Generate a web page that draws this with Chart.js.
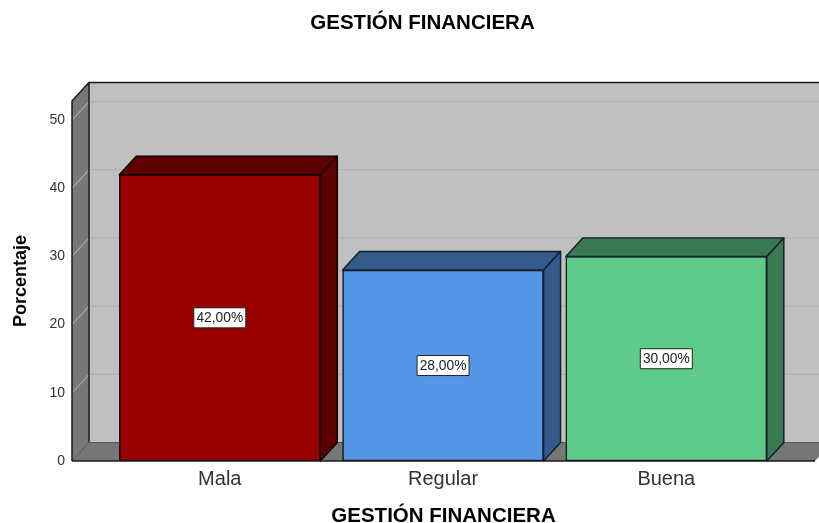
<!DOCTYPE html>
<html>
<head>
<meta charset="utf-8">
<style>
  html, body { margin: 0; padding: 0; background: #fff; overflow: hidden; }
  canvas { display: block; }
</style>
<script src="https://cdn.jsdelivr.net/npm/chart.js@4/dist/chart.umd.min.js"></script>
</head>
<body>
<canvas id="chart-gestion" width="819" height="523"></canvas>
<script>
const categories = ['Mala', 'Regular', 'Buena'];
const percentages = [42, 28, 30];
const yTicks = [0, 10, 20, 30, 40, 50];
const frontColors = ['#990000', '#5596e6', '#5fcb8b'];
const sideColors = ['#5c0000', '#335a8a', '#3a7a53'];

const FONT = '"Liberation Sans", Arial, sans-serif';
const DX = 17;
const DY = 18.5;

const fmtPct = v => v.toFixed(2).replace('.', ',') + '%';

function poly(ctx, pts, fill, stroke, lw) {
  ctx.beginPath();
  pts.forEach((p, i) => i ? ctx.lineTo(p[0], p[1]) : ctx.moveTo(p[0], p[1]));
  ctx.closePath();
  if (fill) { ctx.fillStyle = fill; ctx.fill(); }
  if (stroke) { ctx.strokeStyle = stroke; ctx.lineWidth = lw || 1; ctx.stroke(); }
}

// ── Walls and floor, behind the bars ──
const boxPlugin = {
  id: 'box3d',
  beforeDatasetsDraw(chart) {
    const { ctx, chartArea: a, scales: { y } } = chart;
    ctx.save();
    poly(ctx, [[a.left + DX, a.top - DY], [a.right + DX, a.top - DY], [a.right + DX, a.bottom - DY], [a.left + DX, a.bottom - DY]], '#c0c0c0');
    poly(ctx, [[a.left, a.top], [a.left + DX, a.top - DY], [a.left + DX, a.bottom - DY], [a.left, a.bottom]], '#777777');
    poly(ctx, [[a.left, a.bottom], [a.left + DX, a.bottom - DY], [a.right + DX, a.bottom - DY], [a.right, a.bottom]], '#777777');

    yTicks.concat([y.max]).forEach(v => {
      if (v === 0) return;
      const py = y.getPixelForValue(v);
      ctx.lineWidth = 1.2;
      ctx.strokeStyle = '#b0b0b0';
      ctx.beginPath();
      ctx.moveTo(a.left + DX, py - DY);
      ctx.lineTo(a.right + DX, py - DY);
      ctx.stroke();
      ctx.strokeStyle = '#a8a8a8';
      ctx.beginPath();
      ctx.moveTo(a.left, py);
      ctx.lineTo(a.left + DX, py - DY);
      ctx.stroke();
    });

    // wall edges
    ctx.strokeStyle = '#1a1a1a';
    ctx.lineWidth = 1.5;
    ctx.beginPath();
    ctx.moveTo(a.left, a.bottom);
    ctx.lineTo(a.left, a.top);
    ctx.lineTo(a.left + DX, a.top - DY);
    ctx.lineTo(a.right + DX, a.top - DY);
    ctx.moveTo(a.left + DX, a.top - DY);
    ctx.lineTo(a.left + DX, a.bottom - DY);
    ctx.stroke();
    ctx.strokeStyle = '#555555';
    ctx.lineWidth = 1;
    ctx.beginPath();
    ctx.moveTo(a.left + DX, a.bottom - DY);
    ctx.lineTo(a.right + DX, a.bottom - DY);
    ctx.moveTo(a.left, a.bottom);
    ctx.lineTo(a.left + DX, a.bottom - DY);
    ctx.stroke();
    ctx.restore();
  },
  // ── Bar depth faces, axis line and value boxes ──
  afterDatasetsDraw(chart) {
    const { ctx, chartArea: a } = chart;
    ctx.save();
    ctx.lineJoin = 'round';
    chart.getDatasetMeta(0).data.forEach((bar, i) => {
      const l = bar.x - bar.width / 2, r = bar.x + bar.width / 2, t = bar.y, b = bar.base;
      const edge = i === 0 ? '#140000' : '#15202e';
      poly(ctx, [[l, t], [l + DX, t - DY], [r + DX, t - DY], [r, t]], sideColors[i], edge, 1.5);
      poly(ctx, [[r, t], [r + DX, t - DY], [r + DX, b - DY], [r, b]], sideColors[i], edge, 1.5);
    });

    ctx.strokeStyle = '#1a1a1a';
    ctx.lineWidth = 1.5;
    ctx.beginPath();
    ctx.moveTo(a.left, a.bottom);
    ctx.lineTo(a.right, a.bottom);
    ctx.stroke();

    ctx.font = '13.8px ' + FONT;
    ctx.textAlign = 'center';
    ctx.textBaseline = 'middle';
    chart.getDatasetMeta(0).data.forEach((bar, i) => {
      const cy = (bar.y + bar.base) / 2;
      const txt = fmtPct(percentages[i]);
      const w = 52, h = 20;
      ctx.fillStyle = '#fff';
      ctx.fillRect(bar.x - w / 2, cy - h / 2, w, h);
      ctx.strokeStyle = '#222';
      ctx.lineWidth = 1;
      ctx.strokeRect(bar.x - w / 2, cy - h / 2, w, h);
      ctx.fillStyle = '#222';
      ctx.fillText(txt, bar.x, cy + 0.5);
    });
    ctx.restore();
  }
};

new Chart(document.getElementById('chart-gestion'), {
  type: 'bar',
  data: {
    datasets: [{
      label: 'Porcentaje',
      data: categories.map((c, i) => ({ x: i, y: percentages[i] })),
      backgroundColor: frontColors,
      borderColor: '#15110f',
      borderWidth: 1.5,
      borderSkipped: false,
      barThickness: 201,
    }]
  },
  options: {
    responsive: false,
    animation: false,
    layout: { padding: { left: 30, right: 4, top: 0, bottom: 0 } },
    plugins: {
      legend: { display: false },
      tooltip: { enabled: false },
      title: {
        display: true,
        text: 'GESTIÓN FINANCIERA',
        color: '#000',
        font: { family: FONT, size: 20.5, weight: '700', lineHeight: 1.2 },
        padding: { top: 11, bottom: 65.4 },
      },
    },
    scales: {
      x: {
        type: 'linear',
        offset: false,
        min: -0.662,
        max: 2.666,
        grid: { display: false, drawTicks: false },
        border: { display: false },
        afterFit: s => { s.height = 62; },
        ticks: {
          stepSize: 1,
          includeBounds: false,
          autoSkip: false,
          maxRotation: 0,
          padding: 6,
          color: '#333',
          font: { family: FONT, size: 20 },
          callback: v => categories[v],
        },
        title: {
          display: true,
          text: 'GESTIÓN FINANCIERA',
          color: '#000',
          font: { family: FONT, size: 20.5, weight: '700', lineHeight: 1.2 },
          padding: { top: 0, bottom: -5.3 },
        },
      },
      y: {
        min: 0,
        max: 52.8,
        grid: { display: false, drawTicks: false },
        border: { display: false },
        afterFit: s => { s.width = 42; },
        ticks: {
          stepSize: 10,
          includeBounds: false,
          padding: 7,
          color: '#333',
          font: { family: FONT, size: 14 },
        },
        title: {
          display: true,
          text: 'Porcentaje',
          color: '#000',
          font: { family: FONT, size: 18, weight: '700', lineHeight: 1.2 },
          padding: { top: -19.8, bottom: 0 },
        },
      },
    },
  },
  plugins: [boxPlugin],
});
</script>
</body>
</html>
